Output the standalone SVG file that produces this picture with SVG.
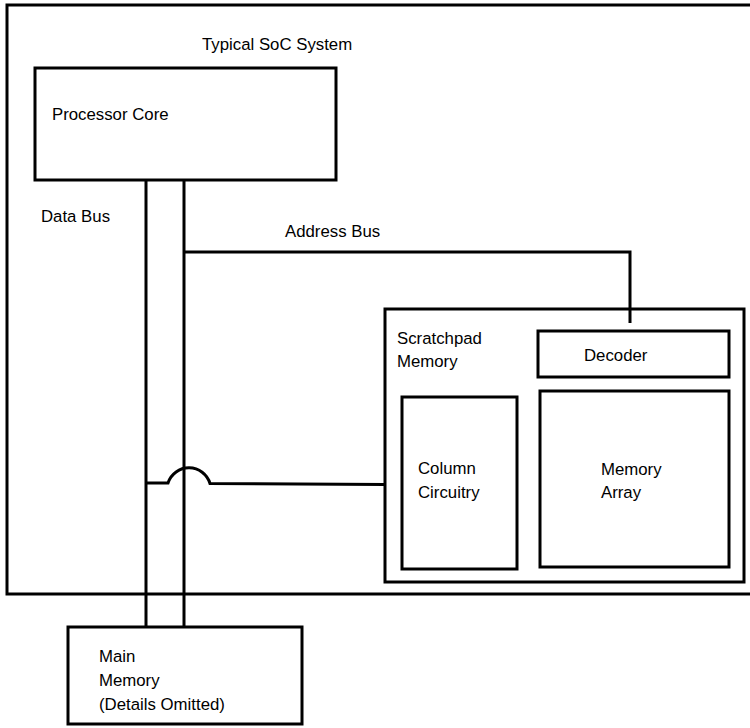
<svg xmlns="http://www.w3.org/2000/svg" width="750" height="728" viewBox="0 0 750 728">
  <style>
    .box { fill: #ffffff; stroke: #000000; stroke-width: 3; }
    .wire { fill: none; stroke: #000000; stroke-width: 3; }
    .lbl { font-family: "Liberation Sans", Arial, sans-serif; font-size: 16.8px; fill: #000000; }
  </style>
  <rect width="750" height="728" fill="#ffffff"/>

  <!-- SoC boundary (open to the right edge) -->
  <g id="soc">
    <rect class="box" x="7" y="5" width="760" height="589"/>
    <text class="lbl" x="202" y="50">Typical SoC System</text>
  </g>

  <g id="processor">
    <rect class="box" x="35" y="68" width="301" height="112"/>
    <text class="lbl" x="52" y="120">Processor Core</text>
  </g>

  <g id="scratchpad">
    <rect class="box" x="385" y="309" width="359" height="273"/>
    <text class="lbl" x="397" y="344">Scratchpad</text>
    <text class="lbl" x="397" y="367">Memory</text>
  </g>

  <g id="decoder">
    <rect class="box" x="538" y="331" width="191" height="46"/>
    <text class="lbl" x="584" y="361">Decoder</text>
  </g>

  <g id="column">
    <rect class="box" x="402" y="397" width="115" height="172"/>
    <text class="lbl" x="418" y="474">Column</text>
    <text class="lbl" x="418" y="498">Circuitry</text>
  </g>

  <g id="array">
    <rect class="box" x="540" y="391" width="189" height="176"/>
    <text class="lbl" x="601" y="475">Memory</text>
    <text class="lbl" x="601" y="498">Array</text>
  </g>

  <g id="mainmem">
    <rect class="box" x="68" y="627" width="234" height="97"/>
    <text class="lbl" x="99" y="662">Main</text>
    <text class="lbl" x="99" y="686">Memory</text>
    <text class="lbl" x="99" y="710">(Details Omitted)</text>
  </g>

  <g id="connectors">
    <!-- data bus -->
    <path class="wire" d="M146 180 V626"/>
    <!-- address bus -->
    <path class="wire" d="M184 180 V626"/>
    <path class="wire" d="M184 252 H630 V323"/>
    <!-- data bus tap to column circuitry, hopping over the address bus -->
    <path class="wire" d="M146 483 H168 A22 22 0 0 1 210 483.5 L385 484.5"/>
  </g>
  <g id="labels">
    <text class="lbl" x="41" y="222">Data Bus</text>
    <text class="lbl" x="285" y="237">Address Bus</text>
  </g>
</svg>
